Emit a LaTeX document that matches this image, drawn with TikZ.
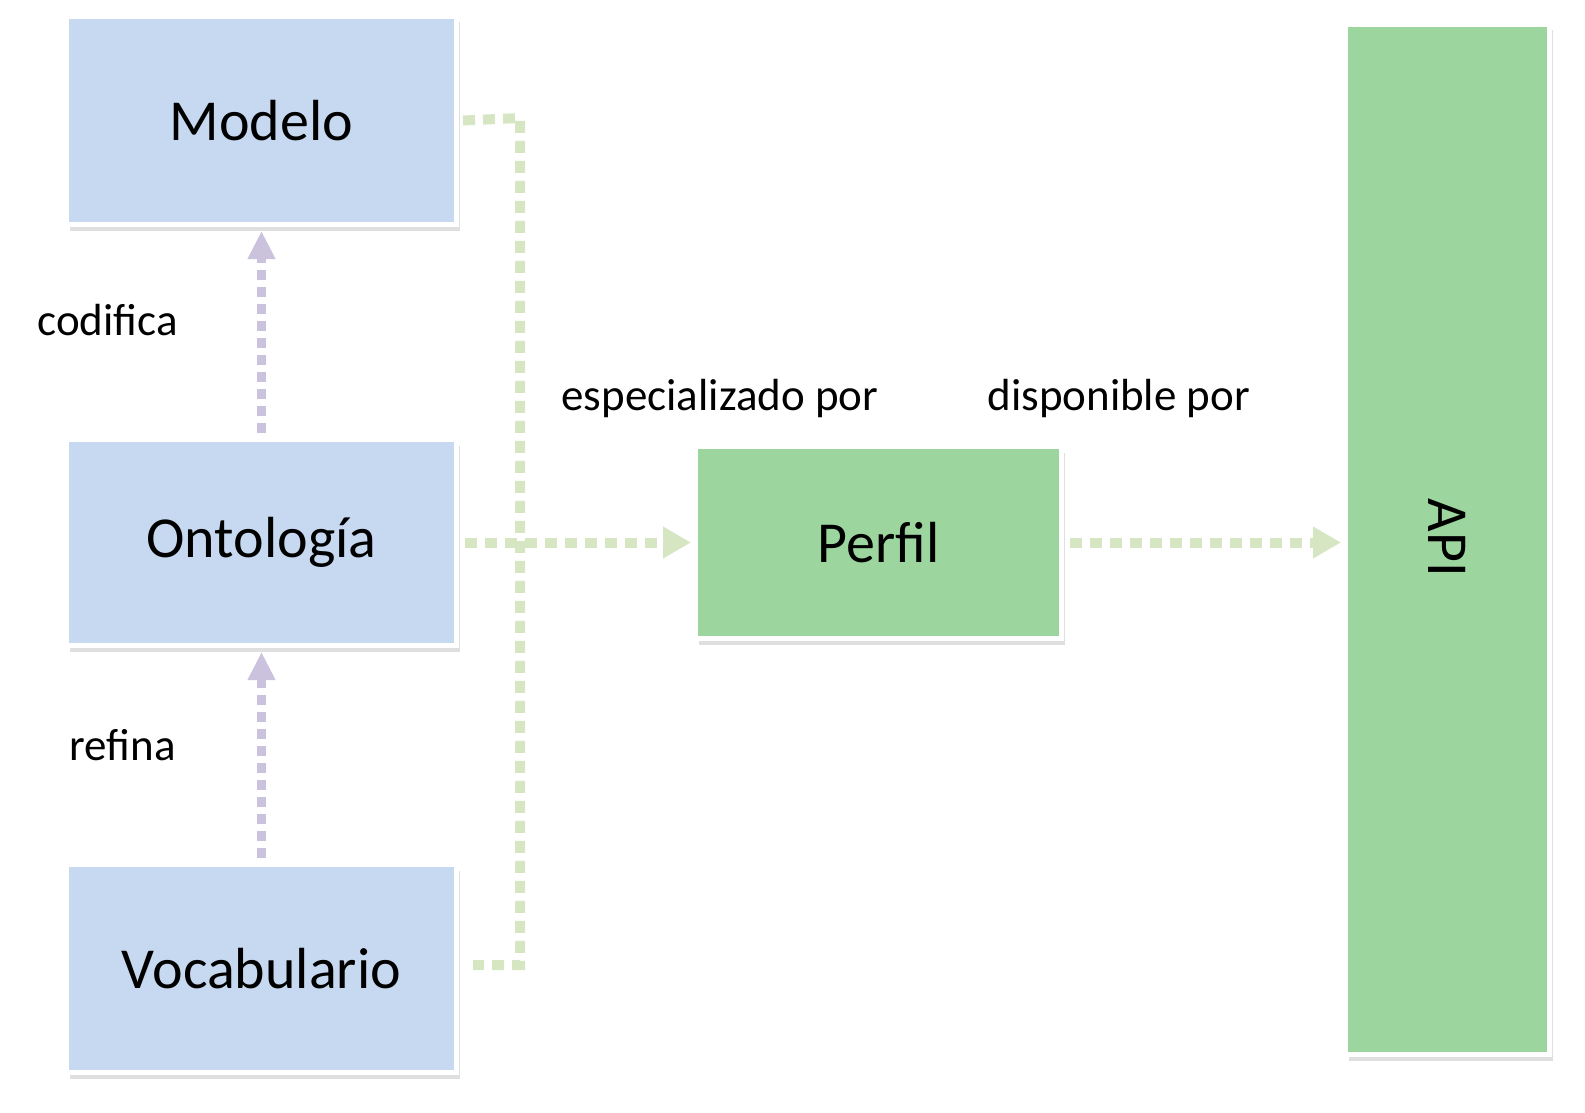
\documentclass[tikz,border=0pt]{standalone}
\usepackage{fontspec}
\setmainfont{Carlito}
\usetikzlibrary{shadows,arrows.meta}
\definecolor{boxblue}{HTML}{C6D9F0}
\definecolor{boxgreen}{HTML}{9CD69E}
\definecolor{lav}{HTML}{CBC2DE}
\definecolor{lgreen}{HTML}{D6E6C3}
\tikzset{
 bx/.style={draw=white,line width=5pt,drop shadow={shadow xshift=3pt,shadow yshift=-6pt,opacity=0.25},anchor=north west,inner sep=0pt,font=\fontsize{58}{60}\selectfont},
 lavline/.style={lav,line width=9pt,dash pattern=on 10pt off 7pt,-{Triangle[width=26pt,length=28pt]}},
 grline/.style={lgreen,line width=10pt,dash pattern=on 12pt off 8pt},
 lbl/.style={font=\fontsize{45}{47}\selectfont,anchor=west}
}
\begin{document}
\begin{tikzpicture}[x=1pt,y=-1pt]
\useasboundingbox (0,0) rectangle (1585,1113);
\node[bx,fill=boxblue,minimum width=390pt,minimum height=208pt] (mod) at (64,14) {Modelo};
\node[bx,fill=boxblue,minimum width=390pt,minimum height=206pt] (ont) at (64,437) {Ontología};
\node[bx,fill=boxblue,minimum width=390pt,minimum height=208pt] (voc) at (64,862) {Vocabulario};
\node[bx,fill=boxgreen,minimum width=366pt,minimum height=192pt] (per) at (693,444) {Perfil};
\node[bx,fill=boxgreen,minimum width=204pt,minimum height=1030pt] (api) at (1343,22) {};
\node[rotate=-90,font=\fontsize{58}{60}\selectfont] (apit) at (api.center |- 0,538) {API};
\coordinate (c1) at (520,118);
\coordinate (c2) at (520,965);
\draw[grline] ([xshift=4pt]mod.east) -- (c1) -- (c2) -- ([xshift=14pt]voc.east |- c2);
\draw[lavline] ([yshift=4pt]ont.north) -- ([yshift=-4pt]mod.south);
\draw[lavline] ([yshift=4pt]voc.north) -- ([yshift=-4pt]ont.south);
\draw[grline,-{Triangle[width=30pt,length=28pt]}] ([xshift=6pt]ont.east) -- ([xshift=-2pt]per.west);
\draw[grline,-{Triangle[width=30pt,length=28pt]}] ([xshift=6pt]per.east) -- ([xshift=-2pt]api.west |- per.east);
\node[lbl] (l1) at (34,320) {codifica};
\node[lbl] (l2) at (66,745) {refina};
\node[lbl] (l3) at (558,398) {especializado por};
\node[lbl] (l4) at (984,398) {disponible por};
\end{tikzpicture}
\end{document}
